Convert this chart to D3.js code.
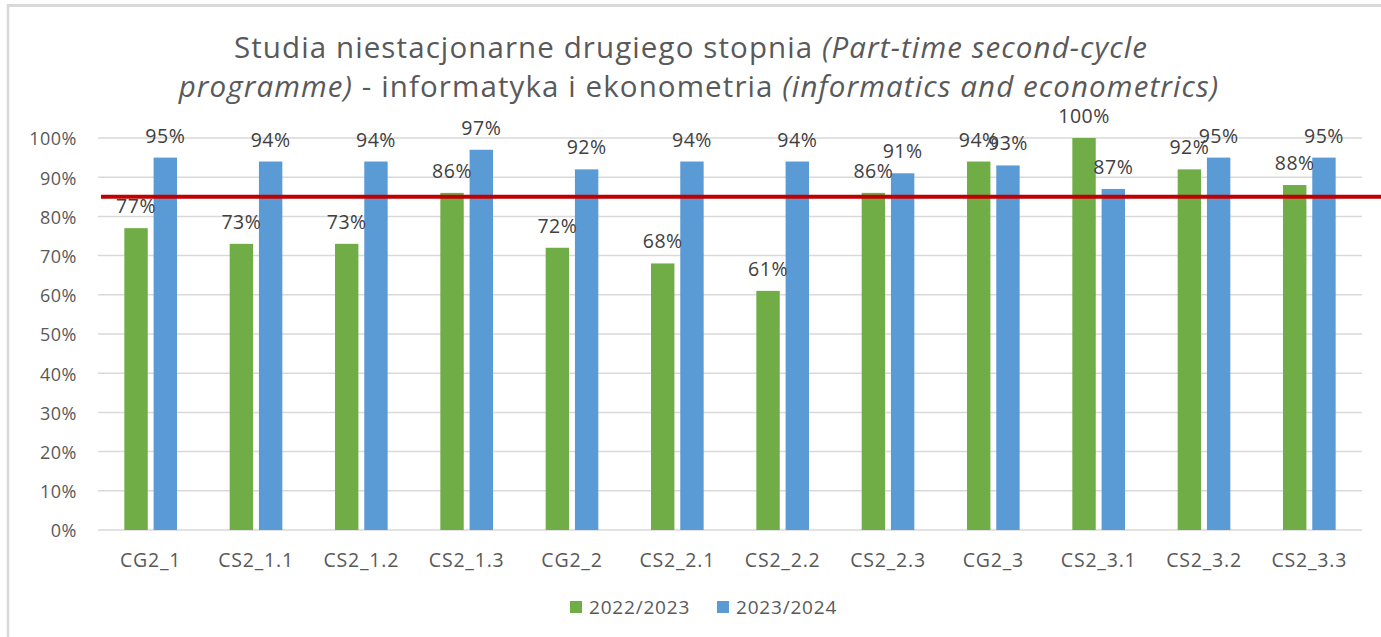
<!DOCTYPE html>
<html>
<head>
<meta charset="utf-8">
<script src="https://cdn.jsdelivr.net/npm/d3@7"></script>
<style>
  html, body { margin: 0; padding: 0; background: #fff; }
  svg { display: block; }
  text { font-family: "Open Sans", "Noto Sans", sans-serif; fill: #595959; }
</style>
</head>
<body>
<svg id="chart" width="1381" height="637"></svg>
<script>
const categories = ["CG2_1","CS2_1.1","CS2_1.2","CS2_1.3","CG2_2","CS2_2.1","CS2_2.2","CS2_2.3","CG2_3","CS2_3.1","CS2_3.2","CS2_3.3"];
const seriesNames = ["2022/2023", "2023/2024"];
const values2022 = [0.77,0.73,0.73,0.86,0.72,0.68,0.61,0.86,0.94,1.00,0.92,0.88];
const values2024 = [0.95,0.94,0.94,0.97,0.92,0.94,0.94,0.91,0.93,0.87,0.95,0.95];
const threshold = 0.85;
const yTicks = [0,0.1,0.2,0.3,0.4,0.5,0.6,0.7,0.8,0.9,1.0];
const colors = ["#70AD47", "#5B9BD5"];

const svg = d3.select("#chart");

// border
svg.append("line").attr("x1", 8).attr("x2", 8).attr("y1", 4).attr("y2", 637)
  .attr("stroke", "#d9d9d9").attr("stroke-width", 2.5);
svg.append("line").attr("x1", 7).attr("x2", 1381).attr("y1", 5.5).attr("y2", 5.5)
  .attr("stroke", "#d9d9d9").attr("stroke-width", 3);

// title
const title = svg.append("text").attr("text-anchor", "middle")
  .style("font-size", "29.5px").style("letter-spacing", "1.1px");
const l1 = title.append("tspan").attr("x", 691).attr("y", 58);
l1.append("tspan").text("Studia niestacjonarne drugiego stopnia ");
l1.append("tspan").style("font-style", "italic").text("(Part-time second-cycle");
const l2 = title.append("tspan").attr("x", 699).attr("y", 97);
l2.append("tspan").style("font-style", "italic").text("programme)");
l2.append("tspan").text(" - informatyka i ekonometria ");
l2.append("tspan").style("font-style", "italic").text("(informatics and econometrics)");

const x0 = d3.scaleBand().domain(categories).range([98, 1362]).paddingInner(0.5).paddingOuter(0.25);
const x1 = d3.scaleBand().domain(seriesNames).range([0, x0.bandwidth()]).paddingInner(0.2);
const y = d3.scaleLinear().domain([0, 1]).range([530, 138]);

// grid
svg.append("g").selectAll("line").data(yTicks).join("line")
  .attr("x1", 98).attr("x2", 1362)
  .attr("y1", d => y(d)).attr("y2", d => y(d))
  .attr("stroke", "#d9d9d9").attr("stroke-width", 1.5);

// y axis labels
const yAxis = d3.axisLeft(y).tickValues(yTicks).tickFormat(d3.format(".0%")).tickSize(0).tickPadding(0);
const yg = svg.append("g").attr("transform", "translate(77,0)").call(yAxis);
yg.select(".domain").remove();
yg.selectAll("text").style("font-size", "18px").style("letter-spacing", "0.5px")
  .attr("fill", "#595959").attr("dy", "0.38em");

// x axis labels
const xAxis = d3.axisBottom(x0).tickSize(0).tickPadding(0);
const xg = svg.append("g").attr("transform", "translate(0,567)").call(xAxis);
xg.select(".domain").remove();
xg.selectAll("text").style("font-size", "19.5px").style("letter-spacing", "0.8px")
  .attr("fill", "#595959").attr("y", 0).attr("dy", "0");

const data = categories.map((c, i) => ({cat: c, vals: [values2022[i], values2024[i]]}));

const groups = svg.append("g").selectAll("g").data(data).join("g")
  .attr("transform", d => `translate(${x0(d.cat)},0)`);

groups.selectAll("rect").data(d => d.vals.map((v, j) => ({s: seriesNames[j], v, j}))).join("rect")
  .attr("x", d => x1(d.s))
  .attr("width", x1.bandwidth())
  .attr("y", d => y(d.v))
  .attr("height", d => y(0) - y(d.v))
  .attr("fill", d => colors[d.j]);

// threshold line
svg.append("line").attr("x1", 101).attr("x2", 1381)
  .attr("y1", y(threshold)).attr("y2", y(threshold))
  .attr("stroke", "#C00000").attr("stroke-width", 4);

// data labels
groups.selectAll("text.lbl").data(d => d.vals.map((v, j) => ({s: seriesNames[j], v, j}))).join("text")
  .attr("class", "lbl")
  .attr("text-anchor", "middle")
  .attr("x", d => x1(d.s) + x1.bandwidth() / 2)
  .attr("y", d => y(d.v) - 15)
  .style("font-size", "19.5px").style("letter-spacing", "0.5px")
  .style("fill", "#404040")
  .text(d => d3.format(".0%")(d.v));

// legend
const legend = svg.append("g");
const legX = [570, 717];
seriesNames.forEach((s, i) => {
  legend.append("rect").attr("x", legX[i]).attr("y", 601).attr("width", 12).attr("height", 12).attr("fill", colors[i]);
  legend.append("text").attr("x", legX[i] + 19).attr("y", 614)
    .style("font-size", "19px").style("letter-spacing", "0.8px").text(s);
});
</script>
</body>
</html>
